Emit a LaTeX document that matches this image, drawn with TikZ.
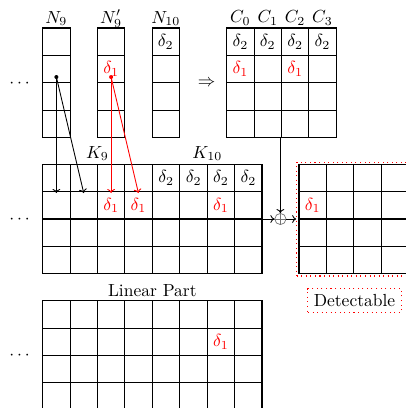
\documentclass[tikz,border=0pt]{standalone}
\usetikzlibrary{fit,calc,arrows.meta}
% cell width in drawing units
\def\cw{27.35}
% grid of cells: #1 name, #2 left x, #3 top y, #4 columns, #5 rows
\newcommand\cellgrid[5]{%
  \foreach \k in {0,...,#4}{\draw[gridline] ({#2+\k*\cw},#3) -- ({#2+\k*\cw},{#3+#5*\cw});}
  \foreach \k in {0,...,#5}{\draw[gridline] (#2,{#3+\k*\cw}) -- ({#2+#4*\cw},{#3+\k*\cw});}
  \foreach \i in {1,...,#4}{\foreach \j in {1,...,#5}{%
    \coordinate (#1-\i-\j) at ({#2+(\i-0.5)*\cw},{#3+(\j-0.5)*\cw});}}
  \coordinate (#1-nw) at (#2,#3);
  \coordinate (#1-se) at ({#2+#4*\cw},{#3+#5*\cw});
  \node[fit=(#1-nw)(#1-se), inner sep=0pt, outer sep=0pt] (#1) {};
}
\begin{document}
\begin{tikzpicture}[x=0.5714pt,y=-0.5714pt,
  gridline/.style={line width=0.6pt, line cap=rect},
  lbl/.style={anchor=base, inner sep=0pt},
  cellval/.style={inner sep=0pt},
  hit/.style={cellval, text=red},
  flow/.style={-{To[length=2.3pt,width=4.4pt]}, line width=0.5pt},
  redflow/.style={flow, draw=red},
  dotframe/.style={draw=red, dotted, line width=0.6pt},
]
\useasboundingbox (0,0) rectangle (406,408);
\clip (0,0) rectangle (406,408);

% top row: state columns and the combined matrix
\cellgrid{N9}{42.7}{28}{1}{4}
\cellgrid{N9p}{97.4}{28}{1}{4}
\cellgrid{N10}{152.1}{28}{1}{4}
\cellgrid{C}{226.7}{28}{4}{4}

% middle row: round keys and the output state
\cellgrid{K9}{42.7}{164.3}{4}{4}
\cellgrid{K10}{152.6}{164.3}{4}{4}
\cellgrid{R}{299}{164.3}{4}{4}

% bottom row: linear part
\cellgrid{L1}{42.7}{300.7}{4}{4}
\cellgrid{L2}{152.6}{300.7}{4}{4}

% column headings
\node[lbl] (hN9)  at ($(N9.north)+(0,-5)$)  {$N_9$};
\node[lbl] (hN9p) at ($(N9p.north)+(0,-5)$) {$N'_9$};
\node[lbl] (hN10) at ($(N10.north)+(0,-5)$) {$N_{10}$};
\foreach \i/\c in {1/0,2/1,3/2,4/3}{
  \node[lbl] (hC\c) at ($(C-\i-1)+(0,-18.7)$) {$C_{\c}$};
}
\node[lbl] (hK9)  at ($(K9.north)+(0,-6)$)  {$K_9$};
\node[lbl] (hK10) at ($(K10.north)+(0,-6)$) {$K_{10}$};
\node[lbl] (hLin) at ($(L1.north east)!0.5!(L2.north west)+(0,-4.7)$) {Linear Part};

% ellipses on the left
\node[lbl] (d1) at (19.5,87.1)  {$\cdots$};
\node[lbl] (d2) at (19.5,223.4) {$\cdots$};
\node[lbl] (d3) at (19.5,359.8) {$\cdots$};

\node[lbl] (imp) at (206.7,86.1) {$\Rightarrow$};

% cell entries
\node[cellval] (vN10) at (N10-1-1) {$\delta_2$};
\node[hit] (vN9p) at (N9p-1-2) {$\delta_1$};
\foreach \i in {1,...,4}{
  \node[cellval] (vC\i) at (C-\i-1) {$\delta_2$};
  \node[cellval] (vK\i) at (K10-\i-1) {$\delta_2$};
}
\node[hit] (vC1b) at (C-1-2) {$\delta_1$};
\node[hit] (vC3b) at (C-3-2) {$\delta_1$};
\node[hit] (vK9c) at (K9-3-2) {$\delta_1$};
\node[hit] (vK9d) at (K9-4-2) {$\delta_1$};
\node[hit] (vK10c) at (K10-3-2) {$\delta_1$};
\node[hit] (vR) at (R-1-2) {$\delta_1$};
\node[hit] (vL) at (L2-3-2) {$\delta_1$};

% sources and targets of the key-schedule arrows
\coordinate (s9) at ($(N9-1-2)+(0,8)$);
\coordinate (s9p) at ($(N9p-1-2)+(0,8)$);
\foreach \i in {1,...,4}{\coordinate (t\i) at ($(K9-\i-2)+(0,-12.3)$);}
\fill (s9) circle[radius=1.15pt];
\fill[red] (s9p) circle[radius=1.15pt];
\draw[flow] (s9) -- (t1);
\draw[flow] (s9) -- (t2);
\draw[redflow] (s9p) -- (t3);
\draw[redflow] (s9p) -- (t4);

% highlighted output
\node[dotframe, fit=(R), inner sep=1.3pt] (frame) {};
\node[dotframe, inner sep=0.333em] (det) at (354.5,300.6) {Detectable};

% xor combining the matrix with the key
\coordinate (xc) at (280.4,0);
\node[circle, draw=black!55, line width=0.4pt, minimum size=6.4pt, inner sep=0pt]
  (xor) at (xc |- R.west) {};
\draw[black!55, line width=0.4pt] (xor.north) -- (xor.south) (xor.west) -- (xor.east);
\draw[flow] (C.south -| xor.north) -- (xor.north);
\draw[flow] (K10.east) -- (xor.west);
\draw[flow] (xor.east) -- (frame.west |- xor.east);
\end{tikzpicture}
\end{document}
